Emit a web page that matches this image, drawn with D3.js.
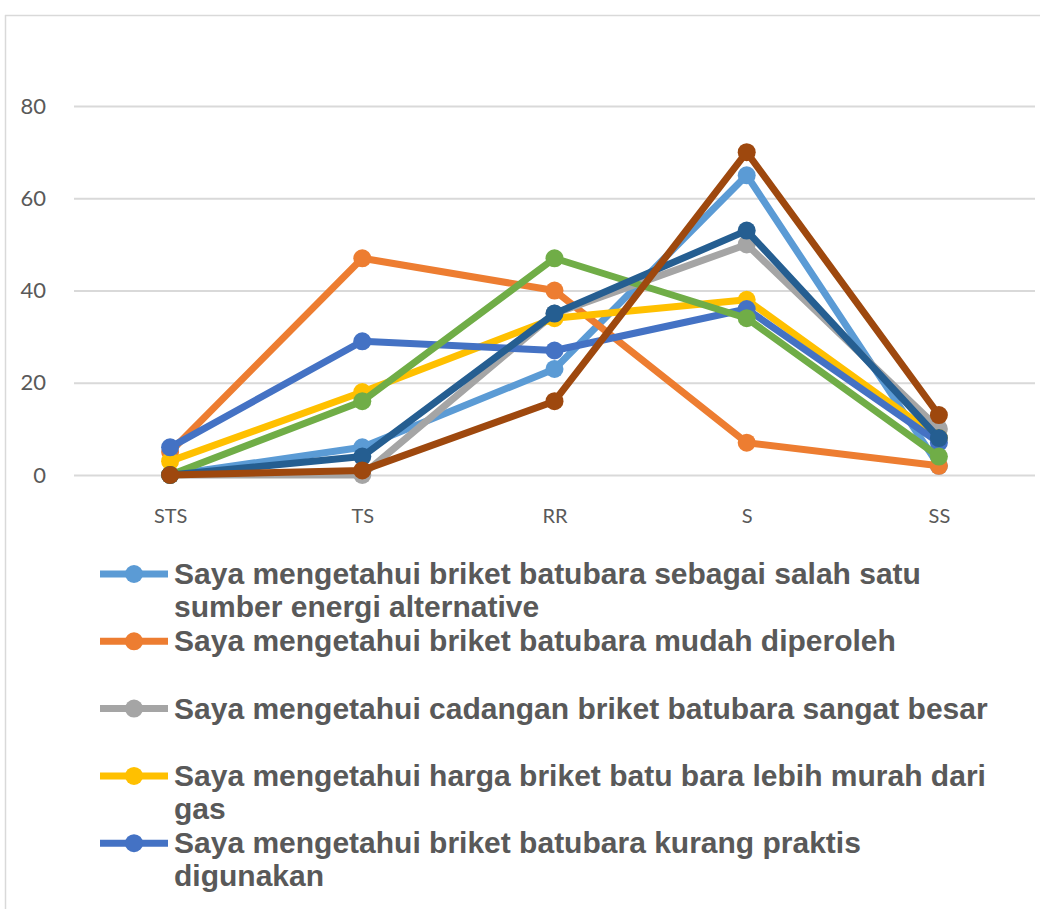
<!DOCTYPE html>
<html>
<head>
<meta charset="utf-8">
<script src="https://cdn.jsdelivr.net/npm/d3@7"></script>
<style>
  body { margin: 0; background: #fff; }
  svg { display: block; }
</style>
</head>
<body>
<div id="chart"></div>
<script>
// categories on the x axis
var categories = ["STS", "TS", "RR", "S", "SS"];

// y axis ticks
var yTicks = [0, 20, 40, 60, 80];

// series names (legend only shows the first five, the rest are cut off)
var seriesNames = [
  "Saya mengetahui briket batubara sebagai salah satu sumber energi alternative",
  "Saya mengetahui briket batubara mudah diperoleh",
  "Saya mengetahui cadangan briket batubara sangat besar",
  "Saya mengetahui harga briket batu bara lebih murah dari gas",
  "Saya mengetahui briket batubara kurang praktis digunakan",
  "Seri 6",
  "Seri 7",
  "Seri 8"
];

// values per series
var s1 = [0, 6, 23, 65, 2];
var s2 = [5, 47, 40, 7, 2];
var s3 = [0, 0, 35, 50, 10];
var s4 = [3, 18, 34, 38, 8];
var s5 = [6, 29, 27, 36, 7];
var s6 = [0, 16, 47, 34, 4];
var s7 = [0, 4, 35, 53, 8];
var s8 = [0, 1, 16, 70, 13];

var seriesColors = ["#5b9bd5", "#ed7d31", "#a5a5a5", "#ffc000", "#4472c4", "#70ad47", "#255e91", "#9e480e"];
var legendCount = 5;

var allSeries = [s1, s2, s3, s4, s5, s6, s7, s8].map(function(v, i) {
  return { name: seriesNames[i], values: v, color: seriesColors[i] };
});

var svgWidth = 1040;
var svgHeight = 909;

var margin = { top: 60, right: 5, bottom: 434, left: 74 };
var width = svgWidth - margin.left - margin.right;
var height = svgHeight - margin.top - margin.bottom;

var svg = d3.select("#chart")
  .append("svg")
  .attr("width", svgWidth)
  .attr("height", svgHeight);

// chart frame (only top and left edges are visible in the crop)
svg.append("line")
  .attr("x1", 5).attr("x2", svgWidth).attr("y1", 15.5).attr("y2", 15.5)
  .attr("stroke", "#d9d9d9").attr("stroke-width", 1.5);
svg.append("line")
  .attr("x1", 5.5).attr("x2", 5.5).attr("y1", 15).attr("y2", svgHeight)
  .attr("stroke", "#d9d9d9").attr("stroke-width", 1.5);

var chartGroup = svg.append("g")
  .attr("transform", `translate(${margin.left}, ${margin.top})`);

var xScale = d3.scalePoint()
  .domain(categories)
  .range([0, width])
  .padding(0.5);

var yScale = d3.scaleLinear()
  .domain([0, 90])
  .range([height, 0]);

// gridlines + y labels
var leftAxis = d3.axisLeft(yScale)
  .tickValues(yTicks)
  .tickSize(-width)
  .tickPadding(28);

var yAxis = chartGroup.append("g").call(leftAxis);
yAxis.select(".domain").remove();
yAxis.selectAll(".tick line")
  .attr("stroke", "#d9d9d9")
  .attr("stroke-width", 2);
yAxis.selectAll(".tick text")
  .attr("fill", "#595959")
  .attr("font-family", "Lato, 'Open Sans', sans-serif")
  .attr("font-size", "22px");

// x labels
var bottomAxis = d3.axisBottom(xScale).tickSize(0).tickPadding(34);
var xAxis = chartGroup.append("g")
  .attr("transform", `translate(0, ${height})`)
  .call(bottomAxis);
xAxis.select(".domain").remove();
xAxis.selectAll(".tick text")
  .attr("fill", "#595959")
  .attr("font-family", "Lato, 'Open Sans', sans-serif")
  .attr("font-size", "20px");

var line = d3.line()
  .x(function(d, i) { return xScale(categories[i]); })
  .y(function(d) { return yScale(d); });

var seriesGroup = chartGroup.selectAll(".series")
  .data(allSeries)
  .enter()
  .append("g")
  .attr("class", "series");

seriesGroup.append("path")
  .attr("d", function(d) { return line(d.values); })
  .attr("fill", "none")
  .attr("stroke", function(d) { return d.color; })
  .attr("stroke-width", 7)
  .attr("stroke-linejoin", "round");

seriesGroup.selectAll("circle")
  .data(function(d) { return d.values.map(function(v) { return { v: v, color: d.color }; }); })
  .enter()
  .append("circle")
  .attr("cx", function(d, i) { return xScale(categories[i]); })
  .attr("cy", function(d) { return yScale(d.v); })
  .attr("r", 9)
  .attr("fill", function(d) { return d.color; });

// legend
var legendX = 100;
var legendTop = 574;
var legendStep = 67.3;
var lineGap = 33;
var maxTextWidth = 830;

var legend = svg.append("g");

allSeries.slice(0, legendCount).forEach(function(s, i) {
  var cy = legendTop + i * legendStep;
  var item = legend.append("g");

  item.append("line")
    .attr("x1", legendX).attr("x2", legendX + 68)
    .attr("y1", cy).attr("y2", cy)
    .attr("stroke", s.color)
    .attr("stroke-width", 7);
  item.append("circle")
    .attr("cx", legendX + 34).attr("cy", cy).attr("r", 9)
    .attr("fill", s.color);

  var text = item.append("text")
    .attr("x", legendX + 74)
    .attr("y", cy + 10)
    .attr("fill", "#595959")
    .attr("font-family", "'Liberation Sans', Arial, sans-serif")
    .attr("font-weight", "bold")
    .attr("font-size", "30px");

  // simple word wrap
  var words = s.name.split(" ");
  var current = [];
  var tspan = text.append("tspan").attr("x", legendX + 74).attr("dy", 0);
  words.forEach(function(w) {
    current.push(w);
    tspan.text(current.join(" "));
    if (tspan.node().getComputedTextLength() > maxTextWidth && current.length > 1) {
      current.pop();
      tspan.text(current.join(" "));
      current = [w];
      tspan = text.append("tspan").attr("x", legendX + 74).attr("dy", lineGap).text(w);
    }
  });
});
</script>
</body>
</html>
